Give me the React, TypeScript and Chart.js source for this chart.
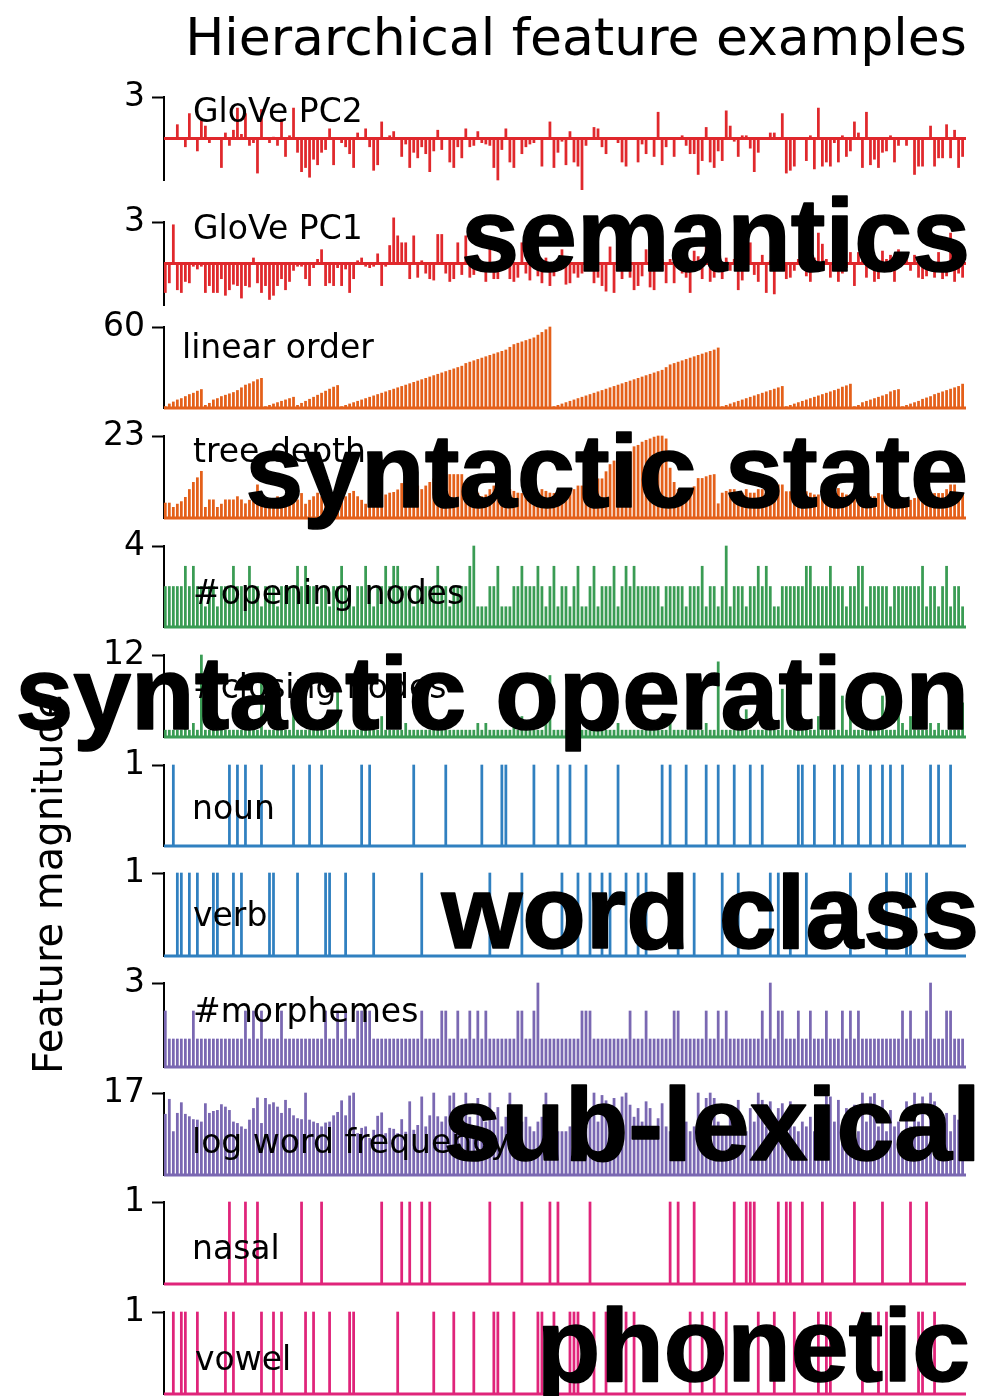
import React, { useEffect, useRef } from 'react';
import { Chart, registerables } from 'chart.js';

Chart.register(...registerables);

// ---------------- data ----------------
const WORD_COUNT = 200;
const wordPositions = Array.from({ length: WORD_COUNT }, (_, i) => i);

const glovePC2 = [
  0, 0, 0, 1.0, 0, -0.6, 1.8, 0, -0.9, 1.3,
  0.9, -0.3, 0, 0, -2.1, 0.4, -0.5, 0.6, 2.2, 0.3,
  1.8, -0.5, -0.3, -2.5, 2.1, 0, -0.3, 0.1, -0.5, 1.4,
  -1.3, 0.2, 2.2, -1.0, -2.4, -2.1, -2.8, -1.5, -1.9, -1.0,
  -0.8, 0.7, -1.9, 0, -0.3, -0.6, -1.1, -2.1, 0.4, 0,
  0.7, -0.6, -2.3, -1.9, 1.2, 0, 0.2, 0.5, 0, -1.3,
  -0.4, -2.1, -1.0, -1.4, -0.6, -1.1, -2.4, -0.9, 0.6, -0.8,
  0, -1.7, -2.1, -0.6, -1.4, 0.7, -0.6, -0.5, 0.5, -0.3,
  -0.4, -0.5, -2.1, -3.0, -0.8, 0.7, -1.7, -2.1, 0, -1.1,
  -0.6, -0.4, -0.3, 0, -2.0, 0, 1.2, -2.1, -1.0, -0.2,
  -1.9, 0.5, -1.7, -2.0, -3.7, -0.5, 0, 0.8, 0.7, -0.6,
  -1.1, 0, 0, -0.3, -1.7, -2.0, 0, 0, -1.7, -0.4,
  -1.1, 0, -1.3, 1.9, -1.9, -0.6, 0, -1.3, 0, 0.2,
  -0.5, -1.1, -1.1, -2.6, -1.6, 0.8, -1.7, -2.1, -0.9, -1.6,
  2.0, 0.9, -0.2, -1.3, 0.2, 0.2, -0.7, -2.4, -1.0, 0,
  0, 0.4, 0.4, 0, 1.8, -2.5, -2.3, -2.0, 0, 0,
  -1.6, 0.2, -2.2, 2.2, -2.0, -1.7, -2.0, -0.3, -1.7, 0.2,
  -1.3, -0.9, 1.2, 0.4, -2.1, 1.9, -1.9, -1.5, -2.1, -1.0,
  -0.9, 0.2, -1.7, -0.5, 0, -0.5, 0, -2.6, -2.0, -2.0,
  0, 0.9, -2.0, -1.4, -1.4, 1.0, -1.4, 0.6, -2.1, -1.3,
];

const glovePC1 = [
  -2.1, -1.4, 2.8, -1.9, -2.1, -1.3, -1.4, -0.2, -0.4, -0.2,
  -2.1, -1.6, -2.1, -2.1, -1.1, -2.3, -1.9, -1.5, -1.6, -2.5,
  -1.6, -1.7, 0.4, -1.4, -2.1, -1.6, -2.6, -2.3, -1.6, -1.1,
  -1.9, -1.3, -0.5, -0.2, -0.2, -1.1, -1.6, -0.3, 0.3, 1.0,
  -1.6, -1.4, -1.6, -0.3, -1.6, -0.4, -2.1, -1.1, 0.2, 0.4,
  -0.2, -0.3, -0.2, 0.7, -1.6, -0.2, 1.3, 3.3, 2.0, 1.5,
  1.5, -1.1, 2.0, -1.0, 0.2, -0.7, -1.1, -1.2, 2.1, 2.1,
  -0.7, -1.3, -1.1, 1.5, -0.8, 2.0, -1.0, -0.8, 0.5, -0.6,
  -1.3, 1.2, -1.1, -1.1, -0.5, 0.8, -1.1, -1.3, -1.0, 1.5,
  -0.7, -1.2, 0.6, -0.9, -1.4, 0.4, -1.6, -0.9, 0.3, 1.0,
  -1.5, -1.4, -0.7, -1.0, -0.7, 0.3, -0.4, -1.4, -1.0, -1.6,
  -2.0, 1.2, -2.1, 0.5, -1.1, 0.3, -1.0, -1.9, -1.6, -0.9,
  1.0, -1.7, -1.9, 0.6, 0.3, -1.4, 0.3, -1.4, 0.8, -0.7,
  -1.0, -2.1, 0.9, 0.5, -1.1, 1.3, -1.3, -1.0, 0.6, -1.1,
  0.4, -0.5, 0.3, -1.9, -1.2, 0.5, 1.5, -0.8, -1.3, 0.6,
  -2.1, 0.2, -2.2, 0.9, 0.4, -1.1, -1.0, -0.5, 0.3, 0.6,
  -0.9, -1.3, 0.4, 2.2, 1.4, 0.3, -1.0, 0.5, -1.3, -0.7,
  -0.3, 0.8, -1.6, 0.8, 0.2, -1.0, 0.4, -1.3, -1.1, 0.9,
  0.3, 0.6, -1.3, 1.0, 0.4, 0.3, -0.5, 0.6, -1.0, -1.1,
  -0.9, -0.3, -1.0, 0.8, -1.1, -0.9, 2.2, -1.3, -0.7, -1.0,
];

const linearOrder = [
  1, 3, 4.5, 6, 7, 8.5, 10, 11, 12.5, 13.7,
  2, 3.5, 6, 7, 8.5, 9.5, 10.5, 11.5, 13, 15, 17, 18, 19.5, 21, 22,
  1, 2, 3, 4, 5, 6, 7, 8,
  2, 3.5, 5, 6.5, 8, 9.5, 11, 12.5, 14, 15.5, 16.7,
  1, 2, 3, 4, 5, 6, 7, 8, 9, 10, 11, 12, 13, 14, 15, 16, 17, 18, 19, 20,
  21, 22, 23, 24, 25, 26, 27, 28, 29, 30, 31, 33, 34, 35, 36, 37, 38, 39, 40, 41,
  42, 43, 45, 47, 48, 49, 50, 51, 52, 54, 56, 58, 60,
  1, 2, 3, 4, 5, 6, 7, 8, 9, 10, 11, 12, 13, 14, 15, 16, 17, 18, 19, 20,
  21, 22, 23, 24, 25, 26, 27, 28, 30, 32, 33, 34, 35, 36, 37, 38, 39, 40, 41, 42,
  43, 44.5,
  1, 2, 3, 4, 5, 6, 7, 8, 9, 10, 11, 12, 13, 14, 15, 16,
  1, 2, 3, 4, 5, 6, 7, 8, 9, 10, 11, 12, 13, 14, 15.5, 16.5, 17.7,
  1, 2, 4, 5, 6, 7, 8, 9, 10, 12, 13, 13.7,
  1, 2, 3, 4, 5, 6.5, 7.5, 8.5, 10, 11, 12, 13, 14, 15, 16, 17.7,
];

const treeDepth = [
  4.2, 4.2, 3.0, 3.9, 4.6, 5.8, 8.0, 10, 11.3, 13.1,
  3.0, 5.1, 5.1, 3.0, 3.9, 5.1, 5.1, 5.1, 6.0, 5.1,
  4, 5, 7, 9.3, 6, 5, 4, 5, 6, 5,
  4, 5, 6, 5.1, 6.9, 3.9, 5, 6, 7, 6,
  5, 6, 5, 5.1, 5.1, 6.0, 6.9, 7.5, 6, 5,
  3.9, 3.2, 4.2, 5.1, 5.6, 6.5, 7, 7.2, 7.9, 9.7,
  10.6, 11.3, 10, 9, 8, 9, 10, 11, 12.2, 12.2,
  12.2, 12.2, 12.2, 12.2, 12.2, 8.3, 8.3, 6.9, 7, 6,
  6.5, 8, 9, 10, 9.3, 8.8, 8, 7.5, 7, 6.9,
  6.9, 7, 6.5, 7, 8, 7.5, 7, 6.9, 6.9, 7.5,
  7, 8, 8, 9, 9, 10, 10, 11, 11, 11,
  13, 15, 16, 17, 18, 18, 18.5, 20, 20.4, 21.3,
  21.8, 22.2, 22.7, 23, 23, 22.2, 14, 10, 8, 7,
  6.5, 7.9, 8.8, 11.1, 11.1, 11.6, 12, 12.2, 4, 7,
  7.5, 8, 8, 7, 7, 8, 7, 7, 8, 8,
  9, 9.3, 9.3, 9.3, 9.3, 7.4, 7.4, 7.4, 7.4, 7.4,
  7.4, 7, 6.5, 6.5, 6.9, 6.9, 6.9, 6.9, 8.3, 7,
  6.5, 6.5, 6, 6, 6, 6, 6, 6, 6.9, 6.5,
  6, 6, 5.6, 5.6, 5.6, 5.6, 5, 5.5, 6, 6.5,
  6.9, 6.5, 6.9, 6.9, 6.9, 8, 9.3, 9.3, 6.9, 6.9,
];

const openingNodes = [
  2, 2, 2, 2, 2, 3, 2, 3, 2, 2,
  1, 2, 2, 1, 2, 2, 2, 3, 2, 2,
  2, 3, 2, 2, 1, 2, 2, 2, 1, 2,
  2, 2, 2, 3, 2, 3, 2, 2, 1, 2,
  2, 1, 2, 2, 3, 2, 2, 1, 2, 2,
  3, 2, 1, 2, 2, 3, 2, 3, 3, 2,
  2, 2, 1, 2, 2, 2, 2, 2, 3, 2,
  2, 1, 2, 2, 2, 2, 3, 4, 1, 1,
  1, 2, 2, 3, 1, 1, 1, 2, 2, 3,
  2, 2, 2, 3, 2, 1, 2, 3, 1, 2,
  2, 1, 2, 3, 1, 1, 2, 3, 1, 2,
  2, 2, 3, 1, 2, 3, 2, 3, 2, 2,
  2, 2, 2, 2, 1, 2, 2, 2, 2, 2,
  1, 2, 2, 2, 3, 1, 2, 2, 1, 2,
  4, 1, 2, 2, 2, 1, 2, 2, 3, 2,
  3, 2, 1, 1, 2, 2, 2, 2, 2, 2,
  3, 3, 2, 2, 2, 2, 3, 2, 2, 2,
  1, 2, 2, 3, 3, 1, 2, 2, 2, 2,
  2, 1, 2, 2, 2, 2, 2, 2, 2, 3,
  1, 2, 2, 1, 2, 3, 1, 2, 2, 1,
];

const closingNodes = [
  1, 1, 1, 1, 1, 2, 1, 2, 1, 12,
  1, 1, 1, 1, 1, 1, 1, 1, 1, 1,
  1, 1, 1, 1, 8, 1, 1, 1, 1, 1,
  1, 1, 5, 1, 1, 1, 1, 1, 1, 1,
  1, 1, 1, 7, 1, 1, 1, 1, 1, 1,
  1, 1, 1, 1, 3, 1, 1, 1, 1, 1,
  2, 1, 1, 1, 1, 1, 1, 1, 1, 1,
  1, 1, 1, 1, 1, 1, 1, 1, 2, 1,
  2, 1, 1, 1, 1, 1, 1, 2, 1, 3,
  1, 1, 1, 1, 1, 2, 9, 1, 1, 1,
  1, 1, 1, 1, 1, 1, 1, 1, 1, 1,
  1, 1, 1, 2, 1, 1, 1, 1, 1, 1,
  1, 1, 1, 1, 1, 1, 2, 1, 1, 1,
  1, 1, 1, 1, 1, 2, 1, 1, 11, 1,
  1, 1, 1, 1, 1, 4, 1, 1, 1, 1,
  1, 1, 1, 1, 7, 1, 1, 1, 1, 1,
  1, 1, 1, 3, 1, 1, 1, 1, 1, 6,
  1, 3, 1, 1, 1, 1, 1, 1, 1, 6,
  1, 1, 1, 4, 2, 1, 3, 1, 1, 1,
  1, 2, 1, 2, 1, 1, 1, 1, 1, 5,
];

// word positions where the binary feature is present
const nounPositions = [
  2, 16, 18, 20, 24, 32, 36, 39, 49, 51, 62, 70, 79, 84, 85, 92, 98, 101, 105, 113,
  124, 126, 130, 135, 138, 142, 146, 149, 158, 159, 162, 167, 169, 173, 176, 179, 181, 184, 191, 193, 196,
];
const verbPositions = [
  3, 4, 6, 8, 12, 13, 17, 19, 26, 27, 33, 40, 41, 45, 52, 64, 81, 89, 99, 103,
  106, 109, 111, 115, 118, 120, 128, 132, 139, 143, 151, 153, 156, 160, 171, 180, 185, 186, 190,
];
const nasalPositions = [
  16, 20, 23, 34, 39, 54, 59, 61, 64, 66, 81, 89, 96, 98, 106, 126, 128, 132, 142, 145,
  146, 147, 153, 155, 156, 159, 164, 172, 179, 186, 190,
];
const vowelPositions = [
  2, 4, 5, 8, 15, 17, 24, 27, 29, 35, 37, 41, 46, 47, 58, 67, 72, 77, 82, 83,
  87, 93, 94, 97, 101, 102, 103, 107, 110, 115, 117, 131, 134, 137, 140, 148, 152, 157, 163, 165,
  166, 174, 178, 180, 188, 189, 192,
];

const morphemes = [
  2, 1, 1, 1, 1, 1, 1, 2, 1, 1,
  1, 1, 1, 1, 1, 1, 1, 1, 1, 1,
  2, 1, 2, 1, 2, 1, 1, 1, 1, 2,
  1, 1, 1, 1, 1, 1, 1, 1, 1, 1,
  2, 1, 1, 2, 1, 2, 1, 1, 2, 2,
  2, 2, 1, 1, 1, 1, 1, 1, 1, 1,
  1, 1, 1, 1, 2, 1, 1, 1, 1, 2,
  2, 1, 1, 2, 1, 1, 2, 1, 2, 1,
  2, 1, 1, 1, 1, 1, 1, 1, 2, 2,
  1, 1, 2, 3, 1, 1, 1, 1, 1, 1,
  1, 1, 1, 1, 2, 2, 2, 1, 1, 1,
  1, 1, 1, 1, 1, 1, 2, 1, 1, 1,
  2, 1, 1, 1, 1, 1, 1, 2, 2, 1,
  1, 1, 1, 1, 1, 2, 1, 1, 2, 1,
  2, 1, 1, 1, 1, 1, 1, 1, 1, 2,
  1, 3, 1, 2, 2, 1, 1, 1, 2, 1,
  1, 2, 1, 1, 1, 2, 1, 1, 1, 2,
  1, 2, 1, 2, 1, 1, 1, 1, 1, 1,
  1, 1, 1, 1, 2, 1, 2, 1, 1, 1,
  2, 3, 1, 1, 1, 2, 2, 1, 1, 1,
];

const logWordFrequency = [
  12.6, 15.7, 9, 12.8, 15.0, 12.6, 12.1, 11.5, 11.4, 11.0,
  14.8, 12.8, 13.2, 13.4, 14.6, 14.1, 13.4, 11.0, 10.7, 10.0,
  9.5, 11.4, 13.8, 16.0, 10.7, 15.9, 14.6, 15.0, 14.1, 12.8,
  15.5, 13.8, 12.3, 11.7, 11.5, 17.0, 11.4, 11.0, 10.7, 10.0,
  10.8, 11.0, 12.3, 13.0, 15.4, 12.3, 16.4, 17.0, 8.6, 9.7,
  10.0, 7.6, 9.3, 12.2, 12.9, 8.6, 9.7, 9.5, 8.6, 11.5,
  8.9, 15.2, 9.3, 10.3, 16.2, 10.0, 12.3, 17.0, 12.1, 11.0,
  12.1, 16.4, 17.0, 11, 13, 17, 12, 10, 15.9, 12,
  11, 17, 13, 14, 10, 12, 17, 14, 13.8, 11,
  12, 10, 9, 11, 12, 17, 10, 9, 9, 9,
  9, 10, 12, 17, 11, 10, 12, 17, 11, 16.5,
  15.4, 12, 15.9, 11, 16.2, 17, 14.5, 12, 13.8, 11,
  15.2, 13.8, 10, 11.7, 14.8, 10, 9, 12.8, 10, 9,
  11, 9, 10, 17, 10, 15.9, 17, 15.9, 11, 10,
  9, 14.5, 11, 15.5, 10, 9, 13.8, 11, 17, 15.5,
  10, 15.2, 9, 13.8, 14.8, 11, 15.2, 10, 9, 11,
  10, 12, 9, 11, 10, 17, 16.2, 11, 15.5, 9,
  13.8, 10, 14.5, 9, 17, 11, 16.2, 16.9, 10, 15.5,
  9, 13.4, 10, 11, 9, 15.2, 10, 17, 11, 16.2,
  9, 17, 15.2, 11, 10, 12.8, 9, 12.4, 11.4, 10,
];

// tick labels (top of each y axis)
const panelMax = [3, 3, 60, 23, 4, 12, 1, 1, 3, 17, 1, 1];
const panelMin = [-3, -3, 0, 0, 0, 0, 0, 0, 0, 0, 0, 0];
const panelLabels = [
  'GloVe PC2', 'GloVe PC1', 'linear order', 'tree depth', '#opening nodes', '#closing nodes',
  'noun', 'verb', '#morphemes', 'log word frequency', 'nasal', 'vowel',
];
const groupLabels = ['semantics', 'syntactic state', 'syntactic operation', 'word class', 'sub-lexical', 'phonetic'];

// ---------------- layout / styles ----------------
const RED = '#e0282c';
const ORANGE = '#e4601a';
const GREEN = '#3a9c54';
const BLUE = '#3080c0';
const PURPLE = '#7a68b2';
const PINK = '#e0247a';

const toBinary = (positions: number[]) => wordPositions.map((i) => (positions.includes(i) ? 1 : 0));

const panelSeries = [
  glovePC2, glovePC1, linearOrder, treeDepth, openingNodes, closingNodes,
  toBinary(nounPositions), toBinary(verbPositions), morphemes, logWordFrequency,
  toBinary(nasalPositions), toBinary(vowelPositions),
];
const panelColors = [RED, RED, ORANGE, ORANGE, GREEN, GREEN, BLUE, BLUE, PURPLE, PURPLE, PINK, PINK];
const panelTop = [97, 222, 327, 436, 546, 655, 765, 873, 983, 1093, 1202, 1312];
const panelBottom = [180, 305, 408, 518, 627, 737, 846, 956, 1067, 1175, 1284, 1394];
const labelPos = [
  [193, 122], [193, 239], [182, 358], [193, 462], [193, 604], [193, 698],
  [192, 819], [193, 926], [193, 1022], [192, 1153], [192, 1259], [195, 1370],
];
const groupPos = [
  [970, 271], [968, 507], [969, 729], [979, 948], [981, 1160], [970, 1381],
];

const W = 982;
const H = 1396;
const PAD_T = 45;
const PAD_B = 45;
const AXIS_LEFT = 164;
const AXIS_RIGHT = 966;

const zeroLine = {
  id: 'zeroLine',
  afterDatasetsDraw(chart: any, _args: any, opts: any) {
    const { ctx, chartArea, scales } = chart;
    const y = scales.y.getPixelForValue(0);
    ctx.save();
    ctx.strokeStyle = opts.color;
    ctx.lineWidth = 2.8;
    ctx.beginPath();
    ctx.moveTo(chartArea.left, y);
    ctx.lineTo(chartArea.right, y);
    ctx.stroke();
    ctx.restore();
  },
};

function Panel({ idx }: { idx: number }) {
  const ref = useRef<HTMLCanvasElement>(null);
  const top = panelTop[idx] - PAD_T;
  const height = panelBottom[idx] - panelTop[idx] + PAD_T + PAD_B;

  useEffect(() => {
    const values = panelSeries[idx];
    const points = values.map((v, i) => ({ x: wordPositions[i], y: v }));
    const chart = new Chart(ref.current as HTMLCanvasElement, {
      type: 'bar',
      data: {
        datasets: [
          {
            data: points as any,
            backgroundColor: panelColors[idx],
            borderWidth: 0,
            barThickness: 2.1,
            clip: false as any,
          },
        ],
      },
      options: {
        animation: false,
        responsive: false,
        maintainAspectRatio: false,
        devicePixelRatio: 1,
        events: [],
        layout: { padding: { top: PAD_T, bottom: PAD_B, left: 0, right: W - AXIS_RIGHT } },
        plugins: {
          legend: { display: false },
          tooltip: { enabled: false },
          title: { display: false },
          zeroLine: { color: panelColors[idx] },
        } as any,
        scales: {
          x: {
            type: 'linear',
            min: -0.33,
            max: WORD_COUNT - 0.15,
            offset: false,
            display: false,
            grid: { offset: false },
          },
          y: {
            min: panelMin[idx],
            max: panelMax[idx],
            afterFit: (s: any) => {
              s.width = AXIS_LEFT;
            },
            afterBuildTicks: (s: any) => {
              s.ticks = [{ value: panelMax[idx] }];
            },
            ticks: {
              color: '#000',
              padding: 7,
              font: { family: 'DejaVu Sans', size: 33 },
            },
            grid: {
              display: true,
              drawOnChartArea: false,
              drawTicks: true,
              tickLength: 12,
              tickWidth: 2,
              tickColor: '#000',
            },
            border: { display: true, color: '#000', width: 2 },
          },
        },
      },
      plugins: [zeroLine],
    });
    return () => chart.destroy();
  }, [idx]);

  return (
    <canvas
      ref={ref}
      width={W}
      height={height}
      style={{ position: 'absolute', left: 0, top, width: W, height }}
    />
  );
}

export default function App() {
  return (
    <div
      style={{
        position: 'absolute',
        left: 0,
        top: 0,
        width: W,
        height: H,
        background: '#fff',
        overflow: 'hidden',
      }}
    >
      {panelLabels.map((_, i) => (
        <Panel key={i} idx={i} />
      ))}
      <svg
        width={W}
        height={H}
        style={{ position: 'absolute', left: 0, top: 0, pointerEvents: 'none' }}
      >
        <text x={576} y={55} fontFamily="DejaVu Sans" fontSize={52} textAnchor="middle" fill="#000">
          Hierarchical feature examples
        </text>
        <text
          x={62}
          y={1074}
          fontFamily="DejaVu Sans"
          fontSize={40}
          fill="#000"
          transform="rotate(-90 62 1074)"
        >
          Feature magnitude
        </text>
        {panelLabels.map((t, i) => (
          <text key={t} x={labelPos[i][0]} y={labelPos[i][1]} fontFamily="DejaVu Sans" fontSize={33} fill="#000">
            {t}
          </text>
        ))}
        {groupLabels.map((t, i) => (
          <text
            key={t}
            x={groupPos[i][0]}
            y={groupPos[i][1]}
            fontFamily="'Liberation Sans', Arial, sans-serif"
            fontWeight="bold"
            fontSize={104}
            textAnchor="end"
            fill="#000"
            stroke="#000"
            strokeWidth={1.6}
            strokeLinejoin="round"
          >
            {t}
          </text>
        ))}
      </svg>
    </div>
  );
}
